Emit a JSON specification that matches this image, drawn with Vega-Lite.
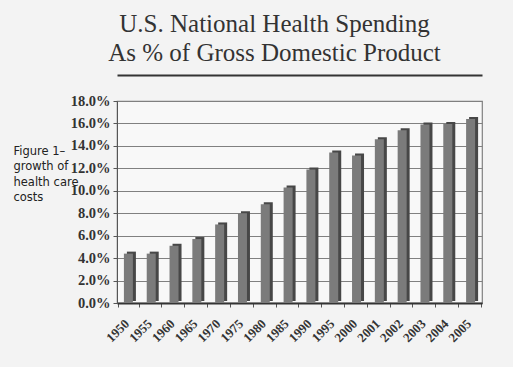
{
  "$schema": "https://vega.github.io/schema/vega-lite/v6.json",
  "autosize": "none",
  "width": 365,
  "height": 202,
  "padding": {"left": 117, "top": 101, "right": 31, "bottom": 64},
  "background": "#f3f3f3",
  "config": {
    "view": {"fill": "#f8f8f8", "stroke": "#808080", "strokeWidth": 1.2}
  },
  "title": {
    "text": ["U.S. National Health Spending", "As % of Gross Domestic Product"],
    "font": "Liberation Serif",
    "fontSize": 25,
    "fontWeight": "normal",
    "color": "#333333",
    "lineHeight": 29,
    "anchor": "middle",
    "dx": -25,
    "offset": 9
  },
  "data": {
    "values": [
      {"year": "1950", "pct": 4.4},
      {"year": "1955", "pct": 4.4},
      {"year": "1960", "pct": 5.1},
      {"year": "1965", "pct": 5.7},
      {"year": "1970", "pct": 7.0},
      {"year": "1975", "pct": 8.0},
      {"year": "1980", "pct": 8.8},
      {"year": "1985", "pct": 10.3},
      {"year": "1990", "pct": 11.9},
      {"year": "1995", "pct": 13.4},
      {"year": "2000", "pct": 13.15},
      {"year": "2001", "pct": 14.6},
      {"year": "2002", "pct": 15.4},
      {"year": "2003", "pct": 15.9},
      {"year": "2004", "pct": 15.95},
      {"year": "2005", "pct": 16.4}
    ]
  },
  "encoding": {
    "y": {
      "field": "pct",
      "type": "quantitative",
      "scale": {"domain": [0, 18]},
      "axis": {
        "values": [0, 2, 4, 6, 8, 10, 12, 14, 16, 18],
        "labelExpr": "format(datum.value, '.1f') + '%'",
        "labelFont": "Liberation Serif",
        "labelFontWeight": "bold",
        "labelFontSize": 14.5,
        "labelColor": "#333333",
        "labelPadding": 3,
        "labelOverlap": false,
        "tickColor": "#555555",
        "tickSize": 4,
        "domainColor": "#555555",
        "grid": true,
        "gridColor": "#808080",
        "gridWidth": 1,
        "title": ["Figure 1–", "growth of", "health care", "costs"],
        "titleAngle": 0,
        "titleFont": "DejaVu Sans",
        "titleFontSize": 11.5,
        "titleFontWeight": "normal",
        "titleColor": "#222222",
        "titleLineHeight": 15.5,
        "titleAlign": "left",
        "titleBaseline": "top",
        "titleX": -104,
        "titleY": 44
      }
    }
  },
  "resolve": {"axis": {"x": "independent"}},
  "layer": [
    {
      "mark": {"type": "bar", "width": 9, "color": "#474747", "xOffset": 3, "yOffset": -2},
      "encoding": {
        "x": {
          "field": "year", "type": "ordinal", "sort": null,
          "axis": {
            "orient": "top", "offset": 26, "labels": false, "ticks": false,
            "title": null, "domain": true, "domainColor": "#333333", "domainWidth": 2
          }
        }
      }
    },
    {
      "mark": {"type": "bar", "width": 9, "color": "#7b7b7b"},
      "encoding": {
        "x": {
          "field": "year", "type": "ordinal", "sort": null,
          "axis": {
            "title": null,
            "labelAngle": -45,
            "labelFont": "Liberation Serif",
            "labelFontWeight": "bold",
            "labelFontSize": 13,
            "labelColor": "#333333",
            "labelPadding": 10,
            "labelOffset": -6,
            "labelOverlap": false,
            "tickBand": "extent",
            "tickColor": "#555555",
            "tickSize": 4,
            "domainColor": "#333333",
            "domainWidth": 2
          }
        }
      }
    }
  ]
}
